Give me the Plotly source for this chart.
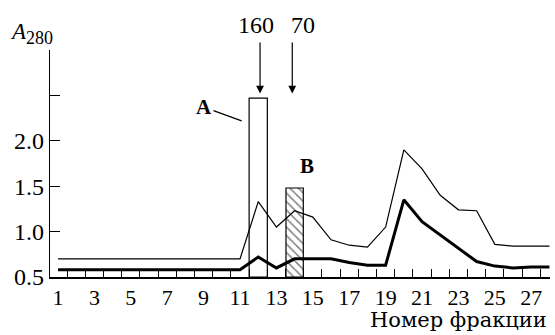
import plotly.graph_objects as go

# ---- data ----
fractions = list(range(1, 29))
thin_vals = [0.70, 0.70, 0.70, 0.70, 0.70, 0.70, 0.70, 0.70, 0.70, 0.70, 0.70,
             1.33, 1.05, 1.23, 1.16, 0.91, 0.85, 0.83, 1.05, 1.90, 1.69, 1.40,
             1.24, 1.23, 0.86, 0.84, 0.84, 0.84]
thick_vals = [0.58, 0.58, 0.58, 0.58, 0.58, 0.58, 0.58, 0.58, 0.58, 0.58, 0.58,
              0.72, 0.60, 0.70, 0.70, 0.70, 0.66, 0.63, 0.63, 1.35, 1.11, 0.96,
              0.81, 0.67, 0.62, 0.60, 0.61, 0.61]
bar_x = [12, 14]
bar_top = [2.47, 1.48]
bar_width = [1.0, 0.95]
base_val = 0.5
x_tick_vals = list(range(1, 28, 2))
x_tick_text = [str(v) for v in x_tick_vals]
y_tick_vals = [0.5, 1.0, 1.5, 2.0, 2.5, 3.0]
y_tick_text = ["0.5", "1.0", "1.5", "2.0", "", ""]
marker_labels = ["160", "70"]
marker_x = [12.1, 13.87]
marker_label_x = [11.88, 14.44]

FONT = "'Liberation Serif', 'Times New Roman', Tinos, 'DejaVu Serif', serif"
WIDE_FONT = "'DejaVu Serif', 'Liberation Serif', serif"

fig = go.Figure()

# bar A (open rectangle)
fig.add_trace(go.Bar(
    x=[bar_x[0]], y=[bar_top[0] - base_val], base=[base_val], width=[bar_width[0]],
    marker=dict(color="rgba(0,0,0,0)", line=dict(color="black", width=1.2)),
    hoverinfo="skip", showlegend=False))
# bar B (hatched)
fig.add_trace(go.Bar(
    x=[bar_x[1]], y=[bar_top[1] - base_val], base=[base_val], width=[bar_width[1]],
    marker=dict(color="white", line=dict(color="black", width=1.2),
                pattern=dict(shape="\\", fgcolor="black", bgcolor="white", size=6, solidity=0.25)),
    hoverinfo="skip", showlegend=False))

fig.add_trace(go.Scatter(x=fractions, y=thin_vals, mode="lines",
                         line=dict(color="black", width=1.2), showlegend=False))
fig.add_trace(go.Scatter(x=fractions, y=thick_vals, mode="lines",
                         line=dict(color="black", width=3), showlegend=False))

annotations = []
# arrows with labels
for lbl, mx, tx in zip(marker_labels, marker_x, marker_label_x):
    annotations.append(dict(x=mx, y=2.52, ax=mx, ay=3.10, xref="x", yref="y",
                            axref="x", ayref="y", text="", showarrow=True,
                            arrowhead=2, arrowsize=1.3, arrowwidth=1.2, arrowcolor="black"))
    annotations.append(dict(x=tx, y=1.108, xref="x", yref="paper", text=lbl, showarrow=False,
                            yanchor="middle",
                            font=dict(family=FONT, size=24, color="black")))
# A label with leader line
annotations.append(dict(x=11.09, y=2.22, ax=9.02, ay=2.37, xref="x", yref="y",
                        axref="x", ayref="y", text="<b>A</b>", showarrow=True,
                        arrowhead=0, arrowwidth=1.2, arrowcolor="black", standoff=0,
                        font=dict(family=FONT, size=21, color="black")))
annotations.append(dict(x=14.66, y=1.72, xref="x", yref="y", text="<b>B</b>",
                        showarrow=False, font=dict(family=FONT, size=21, color="black")))
# axis titles
annotations.append(dict(x=-0.084, y=1.072, xref="paper", yref="paper", xanchor="left",
                        yanchor="middle", showarrow=False,
                        text="<i>A</i><sub><span style='font-size:18px'>280</span></sub>",
                        font=dict(family=FONT, size=23, color="black")))
annotations.append(dict(x=0.998, y=-0.189, xref="paper", yref="paper", xanchor="right",
                        yanchor="middle", showarrow=False, text="Номер фракции",
                        font=dict(family=WIDE_FONT, size=21, color="black")))

fig.update_layout(
    width=555, height=335,
    margin=dict(l=50, r=5, t=49.5, b=58),
    paper_bgcolor="white", plot_bgcolor="white",
    font=dict(family=FONT, size=22, color="black"),
    barmode="overlay",
    annotations=annotations,
    xaxis=dict(range=[0.56, 28.03], showgrid=False, zeroline=False, showline=True,
               linecolor="black", linewidth=1.5, tickmode="array", tickvals=x_tick_vals,
               ticktext=x_tick_text, ticks="", tickfont=dict(family=FONT, size=22),
               minor=dict(tickmode="array", tickvals=[v + 0.5 for v in range(1, 28)],
                          ticks="inside", ticklen=8, tickwidth=1, tickcolor="black")),
    yaxis=dict(range=[0.5, 3.0], showgrid=False, zeroline=False, showline=True,
               linecolor="black", linewidth=1.2, tickmode="array", tickvals=y_tick_vals,
               ticktext=y_tick_text, ticks="inside", ticklen=10, tickwidth=1,
               tickcolor="black", tickfont=dict(family=FONT, size=24)),
)

fig.write_html("out.html")
